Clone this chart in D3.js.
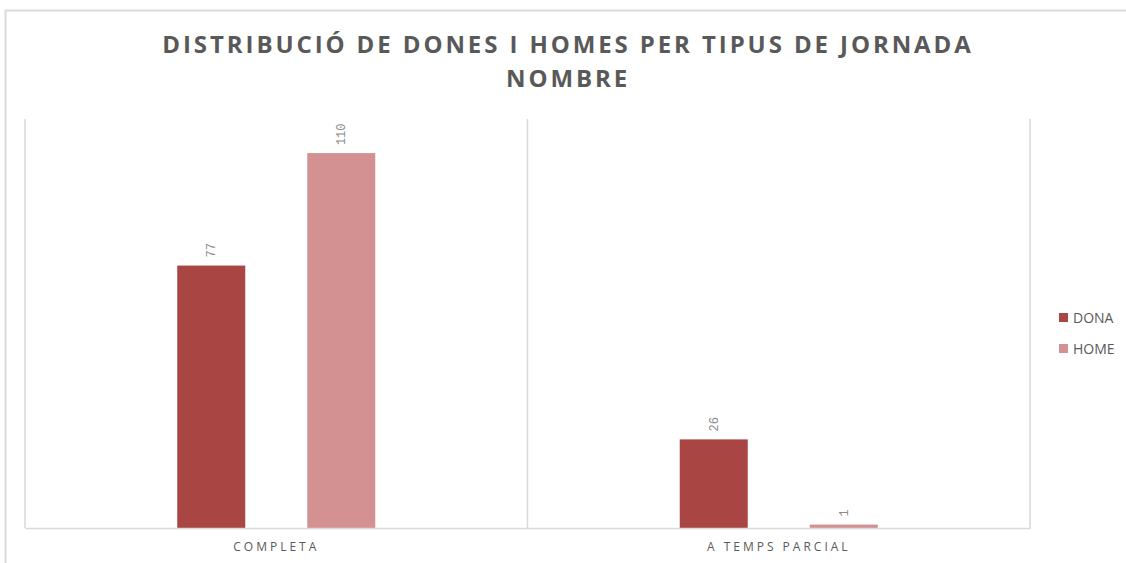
<!DOCTYPE html>
<html><head><meta charset="utf-8">
<script src="https://cdn.jsdelivr.net/npm/d3@7"></script>
<style>body{margin:0;background:#fff}svg{display:block}</style>
</head><body><svg id="c" width="1126" height="563"></svg>
<script>
const categories = ["COMPLETA", "A TEMPS PARCIAL"];
const seriesNames = ["DONA", "HOME"];
const dona = [77, 26];
const home = [110, 1];
const titleLines = ["DISTRIBUCIÓ DE DONES I HOMES PER TIPUS DE JORNADA", "NOMBRE"];
const colors = ["#A94644", "#D39291"];

const svg = d3.select("#c");
const W = 1126, H = 563;
const m = {left: 25, right: 1030, top: 119, bottom: 528};
// outer frame
svg.append("path").attr("d", `M5.5,${H} V10.5 H${W}`).attr("fill","none").attr("stroke","#d9d9d9").attr("stroke-width",2);

const x = d3.scaleBand().domain(categories).range([m.left, m.right]);
const inner = d3.scaleBand().domain(seriesNames).range([0, x.bandwidth()]).paddingInner(0.477).paddingOuter(1.171);
const y = d3.scaleLinear().domain([0, 120]).range([m.bottom, m.top]);

// category separators
const seps = [m.left, ...categories.map(c => x(c) + x.bandwidth())];
svg.selectAll("line.sep").data(seps).join("line")
  .attr("x1", d => d).attr("x2", d => d).attr("y1", m.top).attr("y2", m.bottom)
  .attr("stroke", "#d9d9d9").attr("stroke-width", 1.5);

const data = categories.map((c, i) => ({c, vals: [dona[i], home[i]]}));
const g = svg.append("g");
data.forEach(d => {
  d.vals.forEach((v, j) => {
    const s = seriesNames[j];
    const bx = x(d.c) + inner(s);
    g.append("rect").attr("x", bx).attr("y", y(v)).attr("width", inner.bandwidth())
      .attr("height", y(0) - y(v)).attr("fill", colors[j]);
    g.append("text")
      .attr("transform", `translate(${bx + inner.bandwidth()/2 + 4},${y(v) - 8}) rotate(-90)`)
      .attr("font-family", "Liberation Mono, monospace").attr("font-size", 12)
      .attr("fill", "#8a8a8a").attr("text-anchor", "start").text(v);
  });
});

// x axis
const xa = svg.append("g").attr("transform", `translate(0,${m.bottom})`)
  .call(d3.axisBottom(x).tickSize(0).tickPadding(14));
xa.select(".domain").attr("stroke", "#d9d9d9").attr("stroke-width", 1.5);
xa.selectAll("text").attr("font-family", "Open Sans, sans-serif").attr("font-size", 12)
  .attr("fill", "#595959").attr("letter-spacing", "3px");

// title
svg.selectAll("text.title").data(titleLines).join("text").attr("class","title")
  .attr("x", 568).attr("y", (d, i) => 53 + i * 34).attr("text-anchor", "middle")
  .attr("font-family", "Open Sans, sans-serif").attr("font-weight", "bold")
  .attr("font-size", 24).attr("letter-spacing", "2.9px").attr("fill", "#595959").text(d => d);

// legend
const lg = svg.selectAll("g.lg").data(seriesNames).join("g").attr("class","lg")
  .attr("transform", (d, i) => `translate(1059,${313 + i * 31})`);
lg.append("rect").attr("width", 9).attr("height", 9).attr("fill", (d, i) => colors[i]);
lg.append("text").attr("x", 14).attr("y", 10).attr("font-family", "Open Sans, sans-serif")
  .attr("font-size", 14).attr("fill", "#595959").text(d => d);
</script></body></html>
